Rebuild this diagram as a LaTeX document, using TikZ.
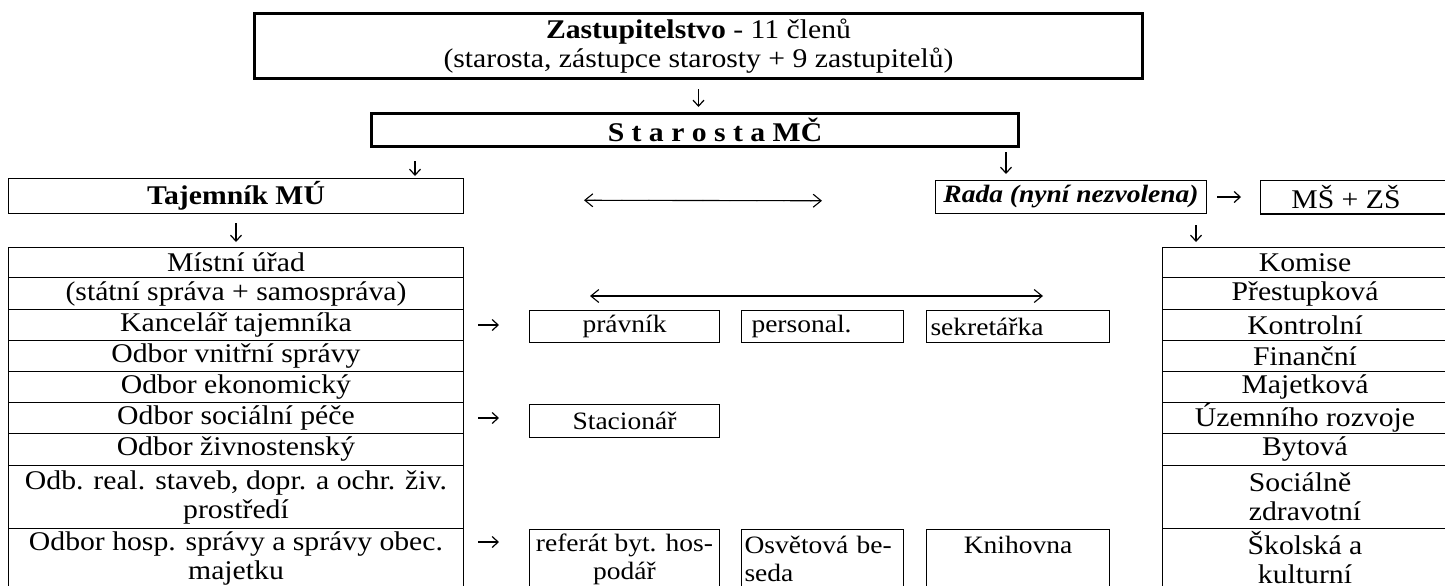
\documentclass[tikz,border=0pt]{standalone}
\usepackage{fontspec}
\setmainfont{Liberation Serif}[FakeStretch=1.1]
\usetikzlibrary{arrows.meta,calc}
\tikzset{
  every node/.style={font=\fontsize{27}{29}\selectfont},
  box/.style={draw, line width=1pt, inner sep=0pt, anchor=north west, align=center},
  thickbox/.style={box, line width=3pt},
  lbox/.style={box, align=left},
  small/.style={font=\fontsize{25}{28}\selectfont},
  arr/.style={line width=1.2pt, -{Straight Barb[length=6pt,width=11pt]}},
  darr/.style={line width=1.1pt, {Straight Barb[length=8pt,width=13pt]}-{Straight Barb[length=8pt,width=13pt]}},
  faint/.style={gray!50, line width=1.2pt, dash pattern=on 1.5pt off 25.5pt},
}
\begin{document}
\begin{tikzpicture}[x=1pt,y=-1pt]
\useasboundingbox (0,0) rectangle (1445,587);
\clip (0,0) rectangle (1445,585.8);

% top level
\node[thickbox, minimum width=888pt, minimum height=65pt] (zast) at (253,12)
  {\textbf{Zastupitelstvo} - 11 členů\\(starosta, zástupce starosty + 9 zastupitelů)};
\node[thickbox, minimum width=647pt, minimum height=33pt] (star) at (370,112)
  {\hspace*{40pt}\textbf{S t a r o s t a MČ}};
\node[box, minimum width=455pt, minimum height=35pt] (taj) at (8,178) {\textbf{Tajemník MÚ}};
\node[box, small, minimum width=271pt, minimum height=33pt] (rada) at (935,180) {\textbf{\textit{Rada (nyní nezvolena)}}};
\node[box, minimum width=187pt, minimum height=33pt] (ms) at (1260,180) {MŠ + ZŠ\hspace*{16pt}};
\draw[line width=2.5pt] (ms.south west) -- (ms.south east);

% left table
\node[box, minimum width=455pt, minimum height=30pt] (l1) at (8,247) {Místní úřad};
\node[box, minimum width=455pt, minimum height=32pt] (l2) at (8,277) {(státní správa + samospráva)};
\node[box, minimum width=455pt, minimum height=31pt] (l3) at (8,309) {Kancelář tajemníka};
\node[box, minimum width=455pt, minimum height=31pt] (l4) at (8,340) {Odbor vnitřní správy};
\node[box, minimum width=455pt, minimum height=31pt] (l5) at (8,371) {Odbor ekonomický};
\node[box, minimum width=455pt, minimum height=31pt] (l6) at (8,402) {Odbor sociální péče};
\node[box, minimum width=455pt, minimum height=32pt] (l7) at (8,433) {Odbor živnostenský};
\node[box, minimum width=455pt, minimum height=63pt] (l8) at (8,465) {Odb. real. staveb, dopr. a ochr. živ.\\prostředí};
\node[box, minimum width=455pt, minimum height=59pt] (l9) at (8,528) {Odbor hosp. správy a správy obec.\\majetku};

% right table
\node[box, minimum width=285pt, minimum height=30pt] (k1) at (1162,247) {Komise};
\node[box, minimum width=285pt, minimum height=32pt] (k2) at (1162,277) {Přestupková};
\node[box, minimum width=285pt, minimum height=31pt] (k3) at (1162,309) {Kontrolní};
\node[box, minimum width=285pt, minimum height=31pt] (k4) at (1162,340) {Finanční};
\node[box, minimum width=285pt, minimum height=31pt] (k5) at (1162,371) {Majetková};
\node[box, minimum width=285pt, minimum height=31pt] (k6) at (1162,402) {Územního rozvoje};
\node[box, minimum width=285pt, minimum height=32pt] (k7) at (1162,433) {Bytová};
\node[lbox, minimum width=285pt, minimum height=63pt] (k8) at (1162,465) {Sociálně\\zdravotní};
\node[box, minimum width=285pt, minimum height=59pt] (k9) at (1162,528) {Školská a\\kulturní};

% middle boxes
\node[box, small, minimum width=190pt, minimum height=32pt] (prav) at (529,310) {právník};
\node[lbox, small, text width=142pt, inner xsep=10pt, minimum height=32pt] (pers) at (741,310) {personal.};
\node[lbox, small, text width=175pt, inner xsep=4pt, minimum height=32pt] (sekr) at (926,310) {sekretářka};
\node[box, small, minimum width=190pt, minimum height=33pt] (stac) at (529,404) {Stacionář};
\node[box, small, minimum width=190pt, minimum height=59pt] (ref) at (529,529) {referát byt. hos-\\podář};
\node[lbox, small, text width=156pt, inner xsep=3pt, minimum height=59pt] (osv) at (741,529) {Osvětová be-\\seda};
\node[box, small, minimum width=183pt, minimum height=59pt] (kni) at (926,529) {Knihovna\\~};

% vertical arrows
\draw[arr, shorten <=9pt, shorten >=5pt] (zast.south) -- (zast.south |- star.north);
\draw[arr, shorten <=13pt, shorten >=2pt] ([xshift=45pt]star.south west) -- ([xshift=45pt]star.south west |- taj.north);
\draw[arr, shorten <=4pt, shorten >=6pt] ([xshift=-14pt]star.south east) -- ([xshift=-14pt]star.south east |- rada.north);
\draw[arr, shorten <=9pt, shorten >=5pt] (taj.south) -- (taj.south |- l1.north);
\draw[arr, shorten <=11pt, shorten >=5pt] ([xshift=-11pt]rada.south east) -- ([xshift=-11pt]rada.south east |- k1.north);

% horizontal arrows
\draw[arr, shorten <=10pt, shorten >=19pt] (rada.east) -- (ms.west);
\draw[arr, shorten <=14pt, shorten >=30pt] (l3.east) -- (l3.east -| prav.west);
\draw[arr, shorten <=14pt, shorten >=30pt] (l6.east) -- (l6.east -| stac.west);
\draw[arr, shorten <=14pt, shorten >=30pt] ($(l9.north east)+(0,14)$) -- ($(l9.north east -| ref.west)+(0,14)$);

% double arrows
\draw[faint] ($(taj.east)+(130,4)$) -- ($(rada.west)+(-120,4)$);
\draw[darr, shorten <=120pt, shorten >=113pt] ($(taj.east)+(0,4)$) -- ($(rada.west)+(0,4)$);
\coordinate (m1) at (590,296);
\coordinate (m2) at (1043,296);
\draw[faint] ($(m1)+(10,0)$) -- ($(m2)+(-10,0)$);
\draw[darr] (m1) -- (m2);
\end{tikzpicture}
\end{document}
